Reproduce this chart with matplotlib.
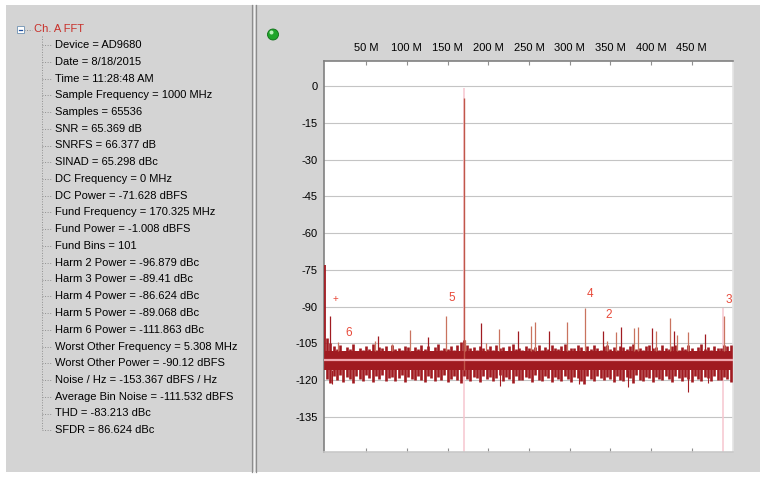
import numpy as np
import matplotlib
matplotlib.use("Agg")
import matplotlib.pyplot as plt
from matplotlib.patches import Rectangle, Ellipse
from matplotlib.lines import Line2D

W, H = 767, 478

# ---- tree panel text ----
info_title = "Ch. A FFT"
info_items = [
    "Device = AD9680",
    "Date = 8/18/2015",
    "Time = 11:28:48 AM",
    "Sample Frequency = 1000 MHz",
    "Samples = 65536",
    "SNR = 65.369 dB",
    "SNRFS = 66.377 dB",
    "SINAD = 65.298 dBc",
    "DC Frequency = 0 MHz",
    "DC Power = -71.628 dBFS",
    "Fund Frequency = 170.325 MHz",
    "Fund Power = -1.008 dBFS",
    "Fund Bins = 101",
    "Harm 2 Power = -96.879 dBc",
    "Harm 3 Power = -89.41 dBc",
    "Harm 4 Power = -86.624 dBc",
    "Harm 5 Power = -89.068 dBc",
    "Harm 6 Power = -111.863 dBc",
    "Worst Other Frequency = 5.308 MHz",
    "Worst Other Power = -90.12 dBFS",
    "Noise / Hz = -153.367 dBFS / Hz",
    "Average Bin Noise = -111.532 dBFS",
    "THD = -83.213 dBc",
    "SFDR = 86.624 dBc",
]

# ---- axes ----
x_ticks = [50, 100, 150, 200, 250, 300, 350, 400, 450]
x_tick_labels = ["50 M", "100 M", "150 M", "200 M", "250 M",
                 "300 M", "350 M", "400 M", "450 M"]
y_ticks = [0, -15, -30, -45, -60, -75, -90, -105, -120, -135]

# ---- spectrum (MHz, dBFS) ----
dc_freq, dc_db = 0.0, -73.2
fund_freq, fund_db = 170.325, -5.0
fund_power = -1.0
harm3_freq, harm3_power = 489.03, -90.4
avg_bin_noise = -111.6

spur_freq = [5.0, 16.0, 60.3, 65.0, 82.0, 104.0, 125.6, 147.7, 171.2, 191.7,
             197.0, 213.8, 236.0, 252.4, 257.3, 274.5, 296.3, 318.7, 340.6,
             345.5, 357.0, 362.9, 379.3, 384.6, 401.4, 406.3, 423.5, 428.4,
             432.5, 445.3, 467.0, 489.2]
spur_db = [-93.7, -104.3, -104.2, -101.9, -105.2, -99.6, -102.3, -93.7, -103.5,
           -96.5, -104.7, -99.2, -100.1, -97.9, -96.2, -100.1, -96.3, -90.6,
           -100.1, -104.2, -100.5, -98.3, -98.9, -98.5, -98.8, -99.8, -94.5,
           -99.8, -101.7, -100.2, -101.2, -94.0]

dip_freq = [8.5, 214.0, 311.0, 372.0, 445.3, 470.0]
dip_db = [-121.4, -122.3, -121.5, -122.7, -124.8, -121.0]

grass_freq = np.arange(2, 500, 4)
grass_top = [
    -103.0, -105.0, -106.2, -107.4, -105.8, -107.9, -106.6, -107.2, -105.4, -108.0,
    -106.9, -107.6, -106.0, -107.3, -105.2, -107.8, -106.4, -107.0, -106.1, -108.1,
    -105.6, -107.2, -106.8, -107.7, -105.9, -106.5, -108.0, -106.3, -107.4, -105.7,
    -107.1, -106.2, -107.9, -106.6, -105.3, -107.5, -106.9, -107.2, -106.0, -107.6,
    -105.8, -104.5, -103.8, -105.6, -107.0, -106.4, -107.8, -105.9, -106.7, -107.3,
    -106.1, -107.5, -105.5, -107.0, -106.6, -108.0, -106.2, -105.4, -107.3, -106.8,
    -107.6, -105.9, -106.9, -107.2, -106.3, -105.7, -107.7, -106.5, -107.1, -105.6,
    -106.8, -107.4, -106.0, -105.2, -107.6, -106.7, -107.0, -105.8, -106.4, -107.9,
    -106.2, -107.3, -105.5, -106.9, -107.5, -106.1, -105.6, -107.2, -106.6, -107.8,
    -105.9, -106.5, -107.4, -106.0, -105.3, -107.1, -106.8, -107.6, -106.2, -105.7,
    -107.0, -106.4, -107.7, -105.5, -106.9, -107.3, -106.1, -105.8, -107.5, -106.6,
    -107.2, -105.6, -106.7, -107.9, -106.3, -105.4, -107.1, -106.5, -107.6, -105.9,
    -106.8, -107.0, -105.7, -106.2, -105.5,
]
grass_bot = [
    -119.5, -121.2, -118.4, -119.9, -117.8, -120.6, -118.9, -119.4, -121.0, -118.2,
    -119.7, -120.3, -117.9, -119.1, -120.8, -118.5, -119.6, -118.0, -120.2, -119.0,
    -118.6, -120.5, -119.3, -117.7, -120.9, -118.8, -119.5, -120.1, -118.3, -119.8,
    -120.6, -118.1, -119.2, -120.4, -118.7, -119.9, -117.8, -120.7, -119.4, -118.5,
    -120.0, -121.3, -118.4, -119.6, -120.2, -118.9, -119.1, -120.8, -118.2, -119.7,
    -118.6, -120.3, -119.0, -117.9, -120.5, -118.8, -119.5, -121.1, -118.3, -119.8,
    -120.1, -118.7, -119.3, -120.6, -118.0, -119.9, -120.4, -118.5, -119.2, -120.9,
    -118.9, -119.6, -120.2, -118.1, -119.4, -120.7, -118.6, -119.0, -120.3, -121.4,
    -118.4, -119.7, -120.5, -118.2, -119.1, -120.0, -118.8, -119.5, -120.8, -118.3,
    -119.9, -120.2, -118.6, -119.3, -121.0, -118.0, -119.8, -120.4, -118.7, -119.2,
    -120.6, -118.9, -119.5, -120.1, -118.4, -119.7, -120.9, -118.5, -119.0, -120.3,
    -118.8, -119.4, -120.7, -118.1, -119.6, -120.2, -118.7, -119.1, -120.5, -118.3,
    -119.9, -120.0, -118.6, -119.4, -120.8,
]
core_top, core_bot = -108.3, -115.8

marker_labels = ["2", "3", "4", "5", "6", "+"]
marker_freq = [340.65, 489.03, 318.70, 148.38, 21.95, 5.31]
marker_db = [-93.5, -87.4, -85.0, -86.6, -100.9, -87.0]

DARK = "#a01b21"
SALMON = "#c9735f"
PINK = "#f7c6cf"
GRAY_BG = "#d4d4d4"


def fx(x):
    return x / W


def fy(y):
    return 1 - y / H


fig = plt.figure(figsize=(W / 100, H / 100), dpi=100, facecolor="white")

# window background and splitter
fig.patches.append(Rectangle((fx(6), fy(472)), fx(754), 467 / H,
                             transform=fig.transFigure, facecolor=GRAY_BG,
                             edgecolor="none", zorder=-5))
for sx, col in [(251.5, "#8c8c8c"), (253.5, "#f0f0f0"), (255.5, "#8c8c8c")]:
    fig.add_artist(Line2D([fx(sx), fx(sx)], [fy(5), fy(472)], color=col, lw=0.9))

# tree panel
fig.patches.append(Rectangle((fx(17), fy(33)), 7 / W, 7 / H, transform=fig.transFigure,
                             facecolor="white", edgecolor="#7f9db9", lw=0.7, zorder=3))
fig.add_artist(Line2D([fx(18.8), fx(22.2)], [fy(29.5), fy(29.5)], color="#2050a0", lw=0.9, zorder=4))
fig.add_artist(Line2D([fx(24), fx(32)], [fy(29.5), fy(29.5)], color="#909090", lw=0.7, ls=":"))
fig.text(fx(34), fy(29.5), info_title, color="#c8302a", fontsize=8,
         family="Liberation Sans", va="center", ha="left")
row0, step = 45.0, 16.75
last_y = row0 + step * (len(info_items) - 1)
fig.add_artist(Line2D([fx(42), fx(42)], [fy(36), fy(last_y)], color="#909090", lw=0.7, ls=":"))
for i, item in enumerate(info_items):
    yy = row0 + step * i
    fig.add_artist(Line2D([fx(42), fx(52)], [fy(yy), fy(yy)], color="#909090", lw=0.7, ls=":"))
    fig.text(fx(55), fy(yy), item, color="black", fontsize=8,
             family="Liberation Sans", va="center", ha="left")

# status LED
fig.patches.append(Ellipse((fx(273), fy(34.5)), 11 / W, 11 / H, transform=fig.transFigure,
                           facecolor="#1fa52a", edgecolor="#0d6e16", lw=0.6, zorder=3))
fig.patches.append(Ellipse((fx(271.5), fy(32.5)), 4 / W, 4 / H, transform=fig.transFigure,
                           facecolor="#b8f0b8", edgecolor="none", zorder=4))

# plot area
ax = fig.add_axes([fx(324), fy(452), 409 / W, 391 / H])
ax.set_zorder(2)
ax.set_facecolor("white")
ax.set_xlim(-1.8, 500.8)
ax.set_ylim(-149.3, 10.2)

for yt in y_ticks:
    ax.axhline(yt, color="#c4c4c4", lw=0.8, zorder=1)

ax.set_yticks(y_ticks)
ax.set_yticklabels([str(v) for v in y_ticks])
ax.set_xticks(x_ticks)
ax.set_xticklabels(x_tick_labels)
ax.tick_params(axis="y", length=0, pad=4.5, labelsize=8)
ax.tick_params(axis="x", top=True, bottom=True, labeltop=True, labelbottom=False,
               direction="in", length=3, color="#909090", pad=6, labelsize=8)
for lab in ax.get_xticklabels() + ax.get_yticklabels():
    lab.set_family("Liberation Sans")

ax.spines["left"].set_color("#808080")
ax.spines["top"].set_color("#808080")
ax.spines["right"].set_color("#e4e4e4")
ax.spines["bottom"].set_color("#c8c8c8")
for s in ax.spines.values():
    s.set_linewidth(1.2)

# marker lines (fundamental and 3rd harmonic)
ax.vlines([fund_freq], -150, fund_power, color=PINK, lw=1.1, zorder=2)
ax.vlines([harm3_freq], -150, harm3_power, color=PINK, lw=1.1, zorder=2)

# noise grass
ax.vlines(grass_freq, grass_bot, grass_top, colors=DARK, lw=1.9, zorder=3)
ax.fill_between([0, 500], core_bot, core_top, color=DARK, lw=0, zorder=4)

# downward dips and spurs
ax.vlines(dip_freq, dip_db, core_bot, colors=DARK, lw=0.8, zorder=4)
scol = [SALMON if i % 3 else DARK for i in range(len(spur_freq))]
ax.vlines(spur_freq, core_top, spur_db, colors=scol, lw=0.9, zorder=4)
ax.vlines([dc_freq], core_bot, dc_db, colors=DARK, lw=1.3, zorder=5)
ax.vlines([fund_freq], core_bot, fund_db, colors="#c0574a", lw=1.0, zorder=5)

# average bin noise line
ax.axhline(avg_bin_noise, color="#f0a6ae", lw=1.6, zorder=6)

# harmonic labels
for lab, f, d in zip(marker_labels, marker_freq, marker_db):
    ax.annotate(lab, (f, d), xytext=(4, 0), textcoords="offset points",
                ha="center", va="center", color="#e84a3a",
                fontsize=7 if lab == "+" else 8.5, family="Liberation Sans", zorder=7)

fig.savefig("out.png", dpi=100, facecolor="white")
